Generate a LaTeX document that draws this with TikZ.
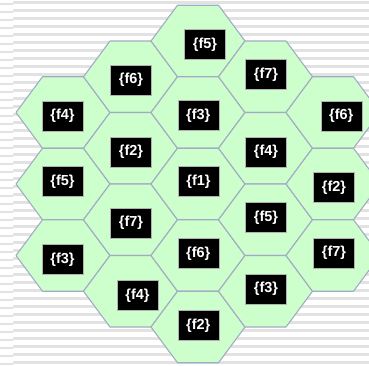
\documentclass[tikz,border=0pt]{standalone}
\usepackage{fontspec}
\setmainfont{Liberation Sans}
\definecolor{hexfill}{HTML}{CCFFCC}
\definecolor{hexline}{HTML}{A3ABC4}
\definecolor{stripe}{HTML}{E2E2E2}
\begin{document}
\begin{tikzpicture}[x=1pt,y=-1pt,
  hexcell/.style={fill=hexfill,draw=hexline,line width=1.1pt,line join=round},
  freq/.style={fill=black,draw=gray!60,line width=0.5pt,text=white,
    minimum width=41pt,minimum height=30pt,inner sep=0pt,
    font=\fontsize{14.5}{16}\selectfont\bfseries}]
\useasboundingbox (0,0) rectangle (369,365);
\clip (0,0) rectangle (369,365);
\fill[white] (0,0) rectangle (369,365);
\foreach \k in {0,...,45} {
  \fill[stripe] (13,{1+8*\k}) rectangle (369,{3.5+8*\k});
  \fill[stripe] (0,{2.5+8*\k}) rectangle (13,{5+8*\k});
}
\foreach \cx/\cy in {63/112.5,63/184,63/255.5,
  130.5/76.75,130.5/148.25,130.5/219.75,130.5/291.25,
  198/41,198/112.5,198/184,198/255.5,198/327,
  265.5/76.75,265.5/148.25,265.5/219.75,265.5/291.25,
  333/112.5,333/184,333/255.5} {
  \filldraw[hexcell] ({\cx-47},\cy) -- ({\cx-20.5},{\cy-35.75}) -- ({\cx+20.5},{\cy-35.75})
    -- ({\cx+47},\cy) -- ({\cx+20.5},{\cy+35.75}) -- ({\cx-20.5},{\cy+35.75}) -- cycle;
}
\node[freq] (c01) at (62.5,116) {\{f4\}};
\node[freq] (c02) at (62.5,181.5) {\{f5\}};
\node[freq] (c03) at (62.5,259.5) {\{f3\}};
\node[freq] (c04) at (131,80) {\{f6\}};
\node[freq] (c05) at (131,152) {\{f2\}};
\node[freq] (c06) at (131,223) {\{f7\}};
\node[freq] (c07) at (137.5,295.5) {\{f4\}};
\node[freq] (c08) at (205,44.3) {\{f5\}};
\node[freq] (c09) at (198.3,115.7) {\{f3\}};
\node[freq] (c10) at (198.5,181.7) {\{f1\}};
\node[freq] (c11) at (198.3,253.3) {\{f6\}};
\node[freq] (c12) at (198.3,325.7) {\{f2\}};
\node[freq] (c13) at (266,74.5) {\{f7\}};
\node[freq] (c14) at (266,152) {\{f4\}};
\node[freq] (c15) at (266,217.7) {\{f5\}};
\node[freq] (c16) at (266,289) {\{f3\}};
\node[freq] (c17) at (341.3,116) {\{f6\}};
\node[freq] (c18) at (334,187.5) {\{f2\}};
\node[freq] (c19) at (334,253) {\{f7\}};
\end{tikzpicture}
\end{document}
